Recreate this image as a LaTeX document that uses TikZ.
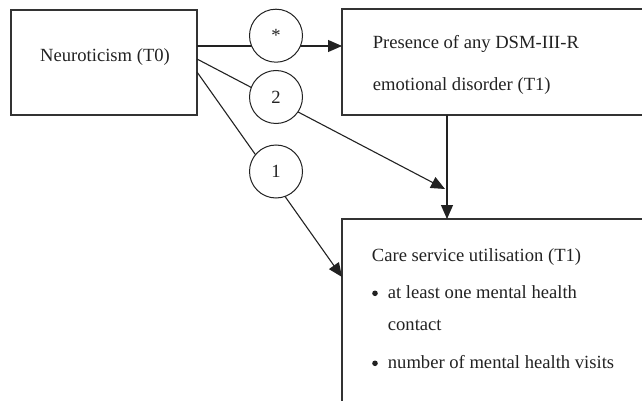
\documentclass[tikz,border=0pt]{standalone}
\usepackage{fontspec}
\setmainfont{Liberation Serif}
\usetikzlibrary{arrows.meta,calc}
\definecolor{ink}{HTML}{222222}
\definecolor{boxcol}{HTML}{333333}
\begin{document}
\begin{tikzpicture}[x=1pt,y=1pt,
  box/.style={draw=boxcol, line width=1.3pt, inner sep=0pt, outer sep=0pt, anchor=north west},
  pcirc/.style={circle, draw=ink, line width=1pt, fill=white, minimum size=53pt, inner sep=0pt, font=\fontsize{18.6}{20}\selectfont, text=ink},
  txt/.style={anchor=base west, inner sep=0pt, font=\fontsize{18.6}{20}\selectfont, text=ink},
  bul/.style={circle, fill=ink, inner sep=0pt, minimum size=5.6pt},
  arr/.style={draw=ink, line width=1.1pt, -{Triangle[length=14pt,width=12pt]}}]
\useasboundingbox (0,0) rectangle (642,-401);
% boxes
\node[box, minimum width=186pt, minimum height=105pt] (neu) at (11,-10) {};
\node[box, minimum width=400pt, minimum height=106pt] (dsm) at (342,-9) {};
\node[box, minimum width=400pt, minimum height=260pt] (care) at (342,-219) {};
% texts
\node[txt] (tneu) at (40,-61.7) {Neuroticism (T0)};
\node[txt] (tdsma) at (372.7,-48.3) {Presence of any DSM-III-R};
\node[txt] (tdsmb) at (372.7,-90.7) {emotional disorder (T1)};
\node[txt] (tca) at (371.7,-261.7) {Care service utilisation (T1)};
\node[bul] (b1) at (375,-293.3) {};
\node[txt] (tcb) at (387.7,-298.3) {at least one mental health};
\node[txt] (tcc) at (387.7,-330) {contact};
\node[bul] (b2) at (375,-363.3) {};
\node[txt] (tcd) at (387.7,-368.3) {number of mental health visits};
% connectors
\coordinate (a1) at ([yshift=16.5pt]neu.east);
\coordinate (a2) at ([yshift=3.5pt]neu.east);
\coordinate (a3) at ([yshift=-9.5pt]neu.east);
\coordinate (v) at ([xshift=105pt]dsm.south west);
\coordinate (t2) at ($(v |- care.north)+(-2,30)$);
\coordinate (t1) at ([yshift=-58pt]care.north west);
\draw[arr] (a1) -- (a1 -| dsm.west);
\draw[arr] (a2) -- (t2);
\draw[arr] (a3) -- (t1);
\draw[arr] (v) -- (v |- care.north);
% circles
\node[pcirc] (cs) at (276,-35.7) {*};
\node[pcirc] (c2) at (276,-97) {2};
\node[pcirc] (c1) at (276,-171.5) {1};
\end{tikzpicture}
\end{document}
